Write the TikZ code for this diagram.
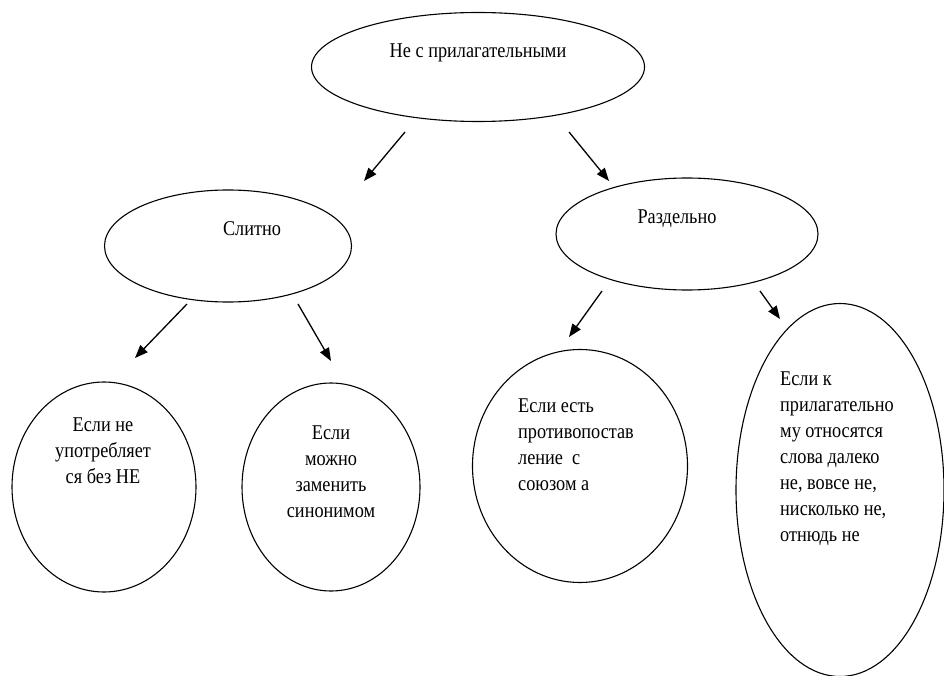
\documentclass[tikz,border=0pt]{standalone}
\usepackage{fontspec}
\setmainfont{Liberation Serif}
\newfontfamily\tnr[FakeStretch=0.87]{Liberation Serif}
\usetikzlibrary{shapes.geometric,arrows.meta}
\begin{document}
\begin{tikzpicture}[x=1pt,y=-1pt,
  oval/.style={draw,ellipse,line width=1.1pt,inner sep=0pt},
  txt/.style={inner sep=0pt,font=\tnr\fontsize{21}{26}\selectfont},
  arr/.style={line width=1.3pt,-{Triangle[length=13pt,width=10pt]}}]
\useasboundingbox (0,0) rectangle (944,676);
% ellipses
\node[oval,minimum width=333pt,minimum height=109pt] (top) at (478,67) {};
\node[oval,minimum width=247pt,minimum height=112pt] (slit) at (228,246) {};
\node[oval,minimum width=262pt,minimum height=112pt] (razd) at (687,234) {};
\node[oval,minimum width=184pt,minimum height=210pt] (b1) at (104,487) {};
\node[oval,minimum width=178pt,minimum height=208pt] (b2) at (331,487) {};
\node[oval,minimum width=215pt,minimum height=233pt] (b3) at (580,466) {};
\node[oval,minimum width=208pt,minimum height=373pt] (b4) at (840,490) {};
% texts
\node[txt] (ttop) at (478,53) {Не с прилагательными};
\node[txt] (tslit) at (252,229) {Слитно};
\node[txt] (trazd) at (677,219) {Раздельно};
\node[txt,align=center,anchor=north] (t1) at (103,418) {Если не\\употребляет\\ся без НЕ};
\node[txt,align=center,anchor=north] (t2) at (331,426) {Если\\можно\\заменить\\синонимом};
\node[txt,align=left,anchor=north west] (t3) at (518,399) {Если есть\\противопостав\\ление~ с\\союзом а};
\node[txt,align=left,anchor=north west] (t4) at (780,372) {Если к\\прилагательно\\му относятся\\слова далеко\\не, вовсе не,\\нисколько не,\\отнюдь не};
% arrow end points
\coordinate (a1s) at (405,132); \coordinate (a1e) at (364,181);
\coordinate (a2s) at (569,132); \coordinate (a2e) at (609,181);
\coordinate (a3s) at (187,304); \coordinate (a3e) at (135,358);
\coordinate (a4s) at (298,304); \coordinate (a4e) at (331,361);
\coordinate (a5s) at (602,291); \coordinate (a5e) at (569,337);
\coordinate (a6s) at (760,291); \coordinate (a6e) at (780,319);
\draw[arr] (a1s) -- (a1e);
\draw[arr] (a2s) -- (a2e);
\draw[arr] (a3s) -- (a3e);
\draw[arr] (a4s) -- (a4e);
\draw[arr] (a5s) -- (a5e);
\draw[arr] (a6s) -- (a6e);
\end{tikzpicture}
\end{document}
